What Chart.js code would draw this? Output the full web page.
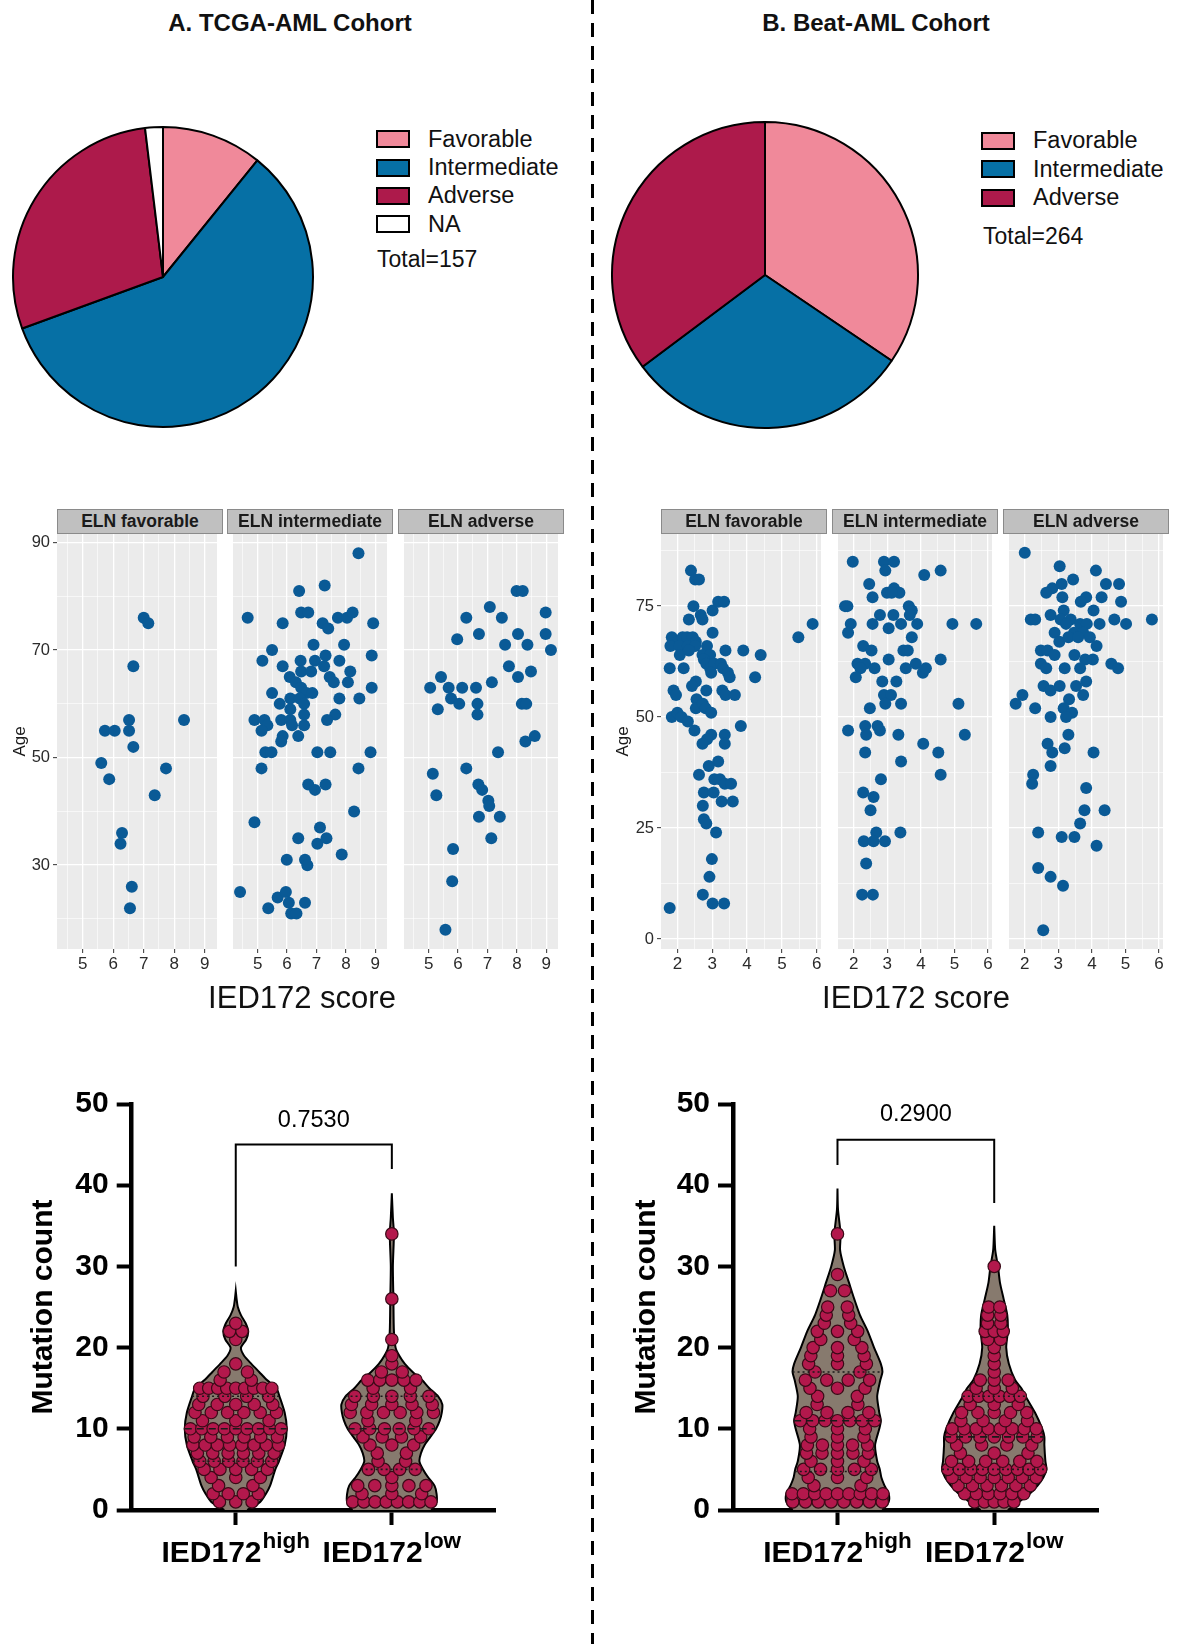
<!DOCTYPE html>
<html lang="en">
<head>
<meta charset="utf-8">
<title>IED172 score and ELN risk: TCGA-AML and Beat-AML</title>
<script src="https://cdn.jsdelivr.net/npm/chart.js@4.4.1/dist/chart.umd.min.js"></script>
<style>
  html, body { margin: 0; background: #fff; }
  body { font-family: "Liberation Sans", Arial, Helvetica, sans-serif; color: #111; }
  #page { position: relative; width: 1180px; height: 1644px; overflow: hidden; }
  .abs { position: absolute; }
  canvas { display: block; }
  .title { font-weight: bold; font-size: 24px; white-space: nowrap; transform: translate(-50%, -50%); }
  .key { display: flex; align-items: center; font-size: 23.5px; white-space: nowrap; }
  .sw { width: 30px; height: 14px; border: 2px solid #000; margin-right: 18px; flex: none; }
  .total { font-size: 23px; white-space: nowrap; transform: translateY(-50%); }
  .strip { top: 509px; height: 25px; box-sizing: border-box; background: #c0c0c0; border: 1px solid #8a8a8a;
           font-weight: bold; font-size: 17.5px; color: #1a1a1a; text-align: center; line-height: 23px; white-space: nowrap; }
  .xtitle { font-size: 31px; color: #111; white-space: nowrap; transform: translate(-50%, -50%); }
  #divider { left: 591px; top: 0; width: 3px; height: 1644px;
             background: repeating-linear-gradient(to bottom, #000 0, #000 14px, transparent 14px, transparent 23px); }
</style>
</head>
<body>
<div id="page">
  <div id="divider" class="abs"></div>
  <div class="abs title" style="left:290px; top:23px">A. TCGA-AML Cohort</div>
  <div class="abs title" style="left:876px; top:23px">B. Beat-AML Cohort</div>

  <canvas id="pieA" class="abs" width="306" height="306" style="left:10px; top:124px"></canvas>
  <canvas id="pieB" class="abs" width="312" height="312" style="left:609px; top:119px"></canvas>

  <canvas id="fA0" class="abs" width="223" height="457" style="left:0px; top:524px"></canvas>
  <canvas id="fA1" class="abs" width="166" height="457" style="left:227px; top:524px"></canvas>
  <canvas id="fA2" class="abs" width="166" height="457" style="left:398px; top:524px"></canvas>
  <canvas id="fB0" class="abs" width="227" height="457" style="left:600px; top:524px"></canvas>
  <canvas id="fB1" class="abs" width="166" height="457" style="left:832px; top:524px"></canvas>
  <canvas id="fB2" class="abs" width="166" height="457" style="left:1003px; top:524px"></canvas>
  <div class="abs xtitle" style="left:302px; top:998px">IED172 score</div>
  <div class="abs xtitle" style="left:916px; top:998px">IED172 score</div>

  <canvas id="vA" class="abs" width="520" height="520" style="left:0px; top:1080px"></canvas>
  <canvas id="vB" class="abs" width="520" height="520" style="left:600px; top:1080px"></canvas>
</div>

<script>
"use strict";

const FONT = '"Liberation Sans", Arial, Helvetica, sans-serif';
const DOT_BLUE = "#0a5a96";
const DOT_RED = "#b3184c";
const VIOLIN_FILL = "#877a6e";

// ELN risk groups
const riskLabels = ["Favorable", "Intermediate", "Adverse", "NA"];
const riskColors = ["#f0899a", "#0670a5", "#ad1a4b", "#ffffff"];
const tcgaRisk = [17, 92, 45, 3];
const beatRisk = [91, 80, 93];

// facet panels: IED172 score vs age
const facetNames = ["ELN favorable", "ELN intermediate", "ELN adverse"];
const tcgaXTicks = [5, 6, 7, 8, 9];
const tcgaYTicks = [30, 50, 70, 90];
const beatXTicks = [2, 3, 4, 5, 6];
const beatYTicks = [0, 25, 50, 75];

const tcgaFavorable = [
  [7.00, 76], [7.15, 75], [6.66, 67], [8.32, 57], [6.52, 57], [5.73, 55], [6.05, 55], [6.52, 55], [6.66, 52],
  [5.61, 49], [7.73, 48], [5.87, 46], [7.36, 43], [6.29, 36], [6.24, 34], [6.61, 26], [6.55, 22],
];
const tcgaIntermediate = [
  [8.43, 88], [6.41, 81], [7.28, 82], [6.48, 77], [6.72, 77], [4.66, 76], [5.85, 75], [7.21, 75], [7.40, 74],
  [7.73, 76], [8.04, 76], [8.23, 77], [8.93, 75], [6.90, 71], [7.94, 71], [5.49, 70], [5.16, 68], [5.85, 67],
  [6.46, 68], [6.95, 68], [7.31, 69], [7.78, 68], [8.88, 69], [6.09, 65], [6.48, 66], [6.82, 66], [7.26, 67],
  [7.45, 65], [7.59, 64], [8.15, 66], [8.07, 64], [8.88, 63], [6.30, 64], [6.48, 63], [6.66, 62], [6.86, 62],
  [5.49, 62], [6.11, 61], [6.43, 61], [6.58, 60], [7.78, 61], [8.46, 61], [5.75, 60], [6.11, 59], [6.58, 58],
  [7.64, 58], [7.36, 57], [4.89, 57], [5.23, 57], [5.80, 57], [6.11, 57], [5.33, 56], [5.13, 55], [6.17, 56],
  [6.58, 56], [5.85, 54], [5.80, 53], [6.38, 54], [5.26, 51], [5.47, 51], [7.03, 51], [7.47, 51], [8.84, 51],
  [5.13, 48], [8.43, 48], [6.72, 45], [6.95, 44], [7.31, 45], [8.28, 40], [4.89, 38], [7.12, 37], [6.38, 35],
  [7.03, 34], [7.34, 35], [7.86, 32], [5.99, 31], [6.61, 31], [6.69, 30], [4.40, 25], [5.68, 24], [5.96, 25],
  [5.36, 22], [6.06, 23], [6.14, 21], [6.32, 21], [6.61, 23],
];
const tcgaAdverse = [
  [7.99, 81], [8.20, 81], [7.08, 78], [8.98, 77], [6.28, 76], [7.49, 76], [5.97, 72], [6.71, 73], [8.04, 73],
  [8.98, 73], [7.60, 71], [8.36, 71], [9.16, 70], [7.73, 67], [8.48, 66], [8.04, 65], [5.42, 65], [5.05, 63],
  [5.68, 63], [6.14, 63], [6.61, 63], [7.15, 64], [5.76, 61], [6.04, 60], [6.66, 60], [6.66, 58], [5.31, 59],
  [8.17, 60], [8.32, 60], [8.29, 53], [8.61, 54], [7.36, 51], [6.28, 48], [5.14, 47], [5.26, 43], [6.69, 45],
  [6.82, 44], [7.03, 42], [7.06, 41], [6.71, 39], [7.42, 39], [7.13, 35], [5.83, 33], [5.80, 27], [5.57, 18],
];
const beatFavorable = [
  [2.39, 83], [2.51, 81], [2.62, 81], [2.46, 75], [2.33, 72], [2.67, 73], [2.72, 72], [3.01, 74], [3.17, 76],
  [3.34, 76], [5.88, 71], [5.47, 68], [3.01, 69], [1.84, 68], [2.00, 67], [2.15, 68], [2.28, 68], [2.44, 68],
  [2.53, 67], [1.80, 66], [2.06, 66], [2.30, 66], [2.51, 66], [2.85, 66], [2.07, 64], [2.33, 65], [2.72, 64],
  [2.94, 64], [2.76, 63], [3.38, 65], [3.89, 65], [4.39, 64], [1.78, 61], [2.18, 61], [2.83, 62], [2.94, 61],
  [3.06, 62], [3.25, 62], [2.97, 60], [3.31, 61], [3.45, 60], [3.50, 59], [4.23, 59], [1.89, 56], [1.96, 55],
  [2.53, 58], [2.42, 57], [2.83, 56], [3.29, 56], [3.38, 55], [3.65, 55], [2.55, 54], [2.53, 52], [2.73, 53],
  [2.81, 52], [2.97, 51], [1.84, 50], [2.00, 51], [2.12, 50], [2.30, 49], [2.49, 47], [3.82, 48], [2.97, 46],
  [2.85, 45], [2.72, 44], [3.36, 46], [3.36, 44], [3.17, 40], [2.90, 39], [2.62, 37], [3.06, 36], [3.22, 36],
  [3.36, 35], [3.54, 35], [2.76, 33], [3.04, 33], [3.27, 31], [3.59, 31], [2.73, 30], [2.76, 27], [2.83, 26],
  [3.11, 24], [2.99, 18], [2.92, 14], [2.73, 10], [3.01, 8], [3.34, 8], [1.78, 7],
];
const beatIntermediate = [
  [1.97, 85], [2.90, 85], [3.20, 85], [2.94, 83], [4.59, 83], [4.10, 82], [2.46, 80], [2.56, 77], [2.99, 78],
  [3.20, 79], [3.36, 78], [3.13, 78], [1.74, 75], [1.81, 75], [3.64, 75], [3.73, 74], [3.67, 73], [2.78, 73],
  [3.18, 73], [1.91, 71], [2.56, 71], [3.41, 71], [3.89, 71], [4.94, 71], [5.65, 71], [1.83, 69], [3.04, 70],
  [3.73, 68], [2.28, 66], [2.53, 65], [3.48, 65], [3.61, 65], [4.59, 63], [3.04, 63], [2.11, 62], [2.34, 62],
  [2.20, 61], [2.06, 59], [2.62, 61], [3.55, 61], [3.85, 62], [4.06, 60], [4.15, 61], [2.85, 58], [3.27, 58],
  [2.90, 55], [3.11, 55], [2.94, 53], [3.41, 53], [5.12, 53], [2.48, 52], [1.83, 47], [2.34, 48], [2.37, 46],
  [2.71, 48], [2.78, 47], [3.33, 46], [5.31, 46], [4.07, 44], [2.34, 42], [4.52, 42], [3.41, 40], [4.59, 37],
  [2.81, 36], [2.28, 33], [2.59, 32], [2.50, 29], [3.39, 24], [2.67, 24], [2.30, 22], [2.59, 22], [2.93, 22],
  [2.37, 17], [2.25, 10], [2.57, 10],
];
const beatAdverse = [
  [2.00, 87], [3.04, 84], [4.12, 83], [3.44, 81], [4.42, 80], [4.81, 80], [2.82, 79], [3.10, 80], [2.64, 78],
  [3.12, 77], [4.29, 77], [3.83, 77], [3.67, 76], [4.87, 76], [4.05, 74], [3.16, 74], [2.18, 72], [2.31, 72],
  [2.77, 73], [3.07, 72], [3.37, 72], [3.23, 71], [3.65, 71], [3.85, 71], [4.23, 71], [4.67, 72], [5.02, 71],
  [5.79, 72], [2.89, 69], [3.47, 69], [3.74, 69], [3.94, 68], [3.03, 67], [3.30, 68], [3.59, 68], [4.14, 66],
  [2.48, 65], [2.68, 65], [2.89, 64], [2.48, 62], [2.64, 61], [3.48, 64], [3.80, 63], [4.03, 63], [4.58, 62],
  [4.78, 61], [3.19, 61], [3.65, 61], [2.56, 57], [2.77, 56], [3.04, 57], [3.53, 57], [3.83, 58], [3.74, 55],
  [1.93, 55], [1.73, 53], [2.31, 52], [3.32, 54], [3.16, 52], [3.41, 51], [3.23, 50], [2.77, 50], [3.30, 46],
  [2.68, 44], [2.82, 42], [3.19, 43], [4.05, 42], [2.77, 39], [2.25, 37], [2.22, 35], [3.83, 34], [3.78, 29],
  [4.38, 29], [3.65, 26], [2.40, 24], [3.10, 23], [3.48, 23], [4.14, 21], [2.40, 16], [2.77, 14], [3.14, 12],
  [2.55, 2],
];

// mutation count violins; counts[i] = number of patients with i mutations
const groupLabels = [["IED172", "high"], ["IED172", "low"]];
const countTicks = [0, 10, 20, 30, 40, 50];
const tcgaHighCounts = [0, 3, 4, 2, 3, 5, 6, 6, 8, 6, 9, 3, 6, 5, 4, 9, 2, 2, 1, 0, 0, 1, 2, 1];
const tcgaLowCounts = [0, 8, 3, 5, 1, 4, 2, 2, 3, 4, 6, 2, 6, 5, 5, 2, 5, 2, 1, 1, 0, 1, 0, 0, 0, 0, 1,
  0, 0, 0, 0, 0, 0, 0, 1];
const beatHighCounts = [0, 8, 9, 2, 3, 5, 3, 5, 5, 3, 3, 7, 4, 2, 2, 3, 4, 2, 3, 3, 3, 2, 3, 2, 2, 2, 0, 2,
  0, 1, 0, 0, 0, 0, 1];
const beatLowCounts = [0, 5, 6, 6, 7, 9, 6, 3, 4, 7, 8, 4, 5, 3, 6, 3, 3, 1, 1, 1, 1, 2, 3, 2, 2, 2, 0, 0,
  0, 0, 1];
const tcgaHighQuart = [6, 10, 14];
const tcgaLowQuart = [5, 10, 14];
const beatHighQuart = [4.75, 11, 17];
const beatLowQuart = [5, 9, 14];
// violin outline: half width (x units) at each mutation-count level
const tcgaHighLevels = [0, 1, 2, 3, 5, 6, 8, 10, 12, 14, 15, 16, 17, 18, 19, 20, 21, 22, 23, 24, 25, 26, 27];
const tcgaHighWidth = [0.11, 0.235, 0.29, 0.33, 0.38, 0.415, 0.47, 0.49, 0.47, 0.42, 0.39, 0.30, 0.225, 0.15,
  0.08, 0.05, 0.10, 0.12, 0.095, 0.05, 0.02, 0.008, 0];
const tcgaLowLevels = [0, 1, 2, 3, 4, 5, 6, 7, 8, 9, 10, 11, 12, 13, 14, 15, 16, 17, 18, 19, 20, 22, 26, 30,
  34, 36, 39];
const tcgaLowWidth = [0.38, 0.43, 0.43, 0.41, 0.35, 0.30, 0.265, 0.28, 0.315, 0.37, 0.425, 0.46, 0.48, 0.485,
  0.445, 0.36, 0.29, 0.2, 0.125, 0.072, 0.036, 0.02, 0.015, 0.01, 0.02, 0.01, 0];
const beatHighLevels = [0, 1, 2, 3, 4, 5, 6, 8, 10, 11, 12, 14, 16, 17, 18, 20, 22, 24, 26, 28, 30, 32, 34,
  37, 39.6];
const beatHighWidth = [0.43, 0.49, 0.49, 0.45, 0.42, 0.405, 0.38, 0.36, 0.40, 0.415, 0.40, 0.38, 0.41, 0.43,
  0.415, 0.35, 0.29, 0.215, 0.16, 0.11, 0.06, 0.025, 0.03, 0.005, 0];
const beatLowLevels = [0, 1, 2, 3, 4, 5, 6, 8, 9, 10, 12, 14, 15, 16, 18, 20, 22, 24, 26, 28, 30, 32, 35];
const beatLowWidth = [0.13, 0.235, 0.34, 0.415, 0.47, 0.5, 0.49, 0.48, 0.48, 0.46, 0.39, 0.3, 0.26, 0.2,
  0.14, 0.115, 0.13, 0.125, 0.09, 0.055, 0.036, 0.01, 0];
const tcgaP = "0.7530";
const beatP = "0.2900";
const tcgaBracket = [30, 45, 42];   // left foot, bar, right foot
const beatBracket = [42.5, 45.6, 37.8];

const groupPos = [1, 2.5];

Chart.defaults.font.family = FONT;

const page = document.getElementById("page");
function addDiv(cls, style, text) {
  const d = document.createElement("div");
  d.className = "abs " + cls;
  d.setAttribute("style", style);
  if (text !== undefined) d.textContent = text;
  page.appendChild(d);
  return d;
}

// ---------- pies ----------
function pieChart(id, values) {
  return new Chart(document.getElementById(id), {
    type: "pie",
    data: {
      labels: riskLabels.slice(0, values.length),
      datasets: [{
        data: values,
        backgroundColor: riskColors.slice(0, values.length),
        borderColor: "#000",
        borderWidth: 2,
      }],
    },
    options: {
      responsive: false, animation: false, events: [],
      layout: { padding: 2 },
      plugins: { legend: { display: false }, tooltip: { enabled: false } },
    },
  });
}

function pieLegend(n, left, top, pitch, total, totalLeft, totalY) {
  for (let i = 0; i < n; i++) {
    const row = addDiv("key", `left:${left}px; top:${top + i * pitch}px; height:${pitch}px`);
    const sw = document.createElement("span");
    sw.className = "sw";
    sw.style.background = riskColors[i];
    row.appendChild(sw);
    row.appendChild(document.createTextNode(riskLabels[i]));
  }
  addDiv("total", `left:${totalLeft}px; top:${totalY}px`, "Total=" + total);
}

pieChart("pieA", tcgaRisk);
pieChart("pieB", beatRisk);
pieLegend(4, 376, 125.4, 28.2, tcgaRisk.reduce((a, b) => a + b, 0), 377, 259.3);
pieLegend(3, 981, 126.7, 28.5, beatRisk.reduce((a, b) => a + b, 0), 983, 236);

// ---------- faceted scatter ----------
const panelBg = {
  id: "panelBg",
  beforeDraw(chart, args, opts) {
    const { ctx, chartArea: a } = chart;
    ctx.save();
    ctx.fillStyle = opts.color || "#ebebeb";
    ctx.fillRect(a.left, a.top, a.right - a.left, a.bottom - a.top);
    ctx.restore();
  },
};

function withMinor(major, range) {
  const step = major[1] - major[0];
  const out = major.slice();
  for (let v = major[0] - step / 2; v <= range[1]; v += step) {
    if (v >= range[0]) out.push(v);
  }
  return out.sort((a, b) => a - b);
}
const isMajor = (list, v) => list.some((m) => Math.abs(m - v) < 1e-6);

function facetChart(id, points, cfg, first) {
  const grid = (major, ticks) => ({
    color: "#ffffff",
    lineWidth: (c) => (c.tick && isMajor(major, c.tick.value) ? 1.3 : 0.6),
    drawTicks: ticks,
    tickLength: 4,
    tickWidth: 1,
    tickColor: (c) => (c.tick && isMajor(major, c.tick.value) ? "#333" : "rgba(0,0,0,0)"),
  });
  return new Chart(document.getElementById(id), {
    type: "scatter",
    data: {
      datasets: [{
        data: points.map(([x, y]) => ({ x, y })),
        pointRadius: 6,
        pointBackgroundColor: DOT_BLUE,
        pointBorderWidth: 0,
      }],
    },
    options: {
      responsive: false, animation: false, events: [],
      layout: { padding: { top: 10, right: 0, bottom: 0, left: 0 } },
      plugins: { legend: { display: false }, tooltip: { enabled: false }, panelBg: { color: "#ebebeb" } },
      scales: {
        x: {
          type: "linear", min: cfg.xRange[0], max: cfg.xRange[1],
          afterBuildTicks: (s) => { s.ticks = withMinor(cfg.xTicks, cfg.xRange).map((value) => ({ value })); },
          afterFit: (s) => { s.height = 32; s.paddingLeft = 0; s.paddingRight = 0; },
          border: { display: false },
          grid: grid(cfg.xTicks, true),
          ticks: {
            autoSkip: false, maxRotation: 0, padding: 1, color: "#2b2b2b", font: { size: 17 },
            callback: (v) => (isMajor(cfg.xTicks, v) ? String(v) : ""),
          },
        },
        y: {
          type: "linear", min: cfg.yRange[0], max: cfg.yRange[1],
          afterBuildTicks: (s) => { s.ticks = withMinor(cfg.yTicks, cfg.yRange).map((value) => ({ value })); },
          afterFit: (s) => { s.width = first ? cfg.yAxisW : 0; s.paddingTop = 0; s.paddingBottom = 0; },
          border: { display: false },
          grid: grid(cfg.yTicks, first),
          ticks: {
            display: first, autoSkip: false, padding: 3, color: "#2b2b2b", font: { size: 16.5 },
            callback: (v) => (isMajor(cfg.yTicks, v) ? String(v) : ""),
          },
          title: {
            display: first, text: "Age", color: "#1a1a1a", font: { size: 17 },
            padding: { top: cfg.agePad, bottom: 0 },
          },
        },
      },
    },
    plugins: [panelBg],
  });
}

const tcgaCfg = { xTicks: tcgaXTicks, yTicks: tcgaYTicks, xRange: [4.16, 9.40], yRange: [14.4, 91.6], yAxisW: 57, agePad: 9.8 };
const beatCfg = { xTicks: beatXTicks, yTicks: beatYTicks, xRange: [1.53, 6.12], yRange: [-2.25, 91.25], yAxisW: 61, agePad: 13.1 };

[tcgaFavorable, tcgaIntermediate, tcgaAdverse].forEach((pts, i) => facetChart("fA" + i, pts, tcgaCfg, i === 0));
[beatFavorable, beatIntermediate, beatAdverse].forEach((pts, i) => facetChart("fB" + i, pts, beatCfg, i === 0));

[[57, 227, 398], [661, 832, 1003]].forEach((lefts) => {
  lefts.forEach((l, i) => addDiv("strip", `left:${l}px; width:166px`, facetNames[i]));
});

// ---------- violins ----------
function violinOutline(center, levels, width) {
  const right = levels.map((v, i) => ({ x: center + width[i], y: v }));
  const left = levels.map((v, i) => ({ x: center - width[i], y: v })).reverse();
  return right.concat(left);
}

function widthAt(levels, width, v) {
  for (let i = 1; i < levels.length; i++) {
    if (v <= levels[i]) {
      const t = (v - levels[i - 1]) / (levels[i] - levels[i - 1]);
      return width[i - 1] + t * (width[i] - width[i - 1]);
    }
  }
  return 0;
}

// spread each row of equal counts evenly across the violin's width at that level
function swarm(center, counts, levels, width) {
  const pts = [];
  counts.forEach((n, v) => {
    if (!n) return;
    const hw = widthAt(levels, width, v);
    const step = (2 * hw) / n;
    for (let i = 0; i < n; i++) pts.push({ x: center - hw + step * (i + 0.5), y: v });
  });
  return pts;
}

const violinText = {
  id: "violinText",
  afterDraw(chart, args, opts) {
    const { ctx, chartArea, scales: { x, y } } = chart;
    ctx.save();
    ctx.fillStyle = "#000";
    ctx.textBaseline = "alphabetic";
    ctx.textAlign = "left";
    const base = chartArea.bottom + 51.7;
    groupLabels.forEach(([main, sup], i) => {
      const cx = x.getPixelForValue(groupPos[i]);
      ctx.font = `bold 30px ${FONT}`;
      const w1 = ctx.measureText(main).width;
      ctx.font = `bold 22.5px ${FONT}`;
      const w2 = ctx.measureText(sup).width;
      const left = cx - (w1 + w2 + 1) / 2;
      ctx.font = `bold 30px ${FONT}`;
      ctx.fillText(main, left, base);
      ctx.font = `bold 22.5px ${FONT}`;
      ctx.fillText(sup, left + w1 + 1, base - 13.4);
    });
    const mid = (x.getPixelForValue(groupPos[0]) + x.getPixelForValue(groupPos[1])) / 2;
    ctx.font = `23.5px ${FONT}`;
    ctx.textAlign = "center";
    ctx.textBaseline = "middle";
    ctx.fillText(opts.p, mid, y.getPixelForValue(opts.bar) - opts.gap);
    ctx.restore();
  },
};

function violinChart(id, groups, bracket, p, cfg) {
  const datasets = [];
  groups.forEach((g, gi) => {
    const c = groupPos[gi];
    datasets.push({
      data: violinOutline(c, g.levels, g.width),
      showLine: true, fill: "shape", backgroundColor: VIOLIN_FILL,
      borderColor: "#000", borderWidth: 2, pointRadius: 0, tension: 0.25, order: 3,
    });
    datasets.push({
      data: swarm(c, g.counts, g.levels, g.width),
      pointRadius: 6.2, pointBackgroundColor: DOT_RED, pointBorderColor: "#3a0a17", pointBorderWidth: 1.2,
      order: 2,
    });
    g.quart.forEach((q, qi) => {
      const hw = widthAt(g.levels, g.width, q);
      datasets.push({
        data: [{ x: c - hw, y: q }, { x: c + hw, y: q }],
        showLine: true, borderColor: "#1a1a1a", borderWidth: 1.6,
        borderDash: qi === 1 ? [7, 5] : [2, 3], pointRadius: 0, order: 1,
      });
    });
  });
  datasets.push({
    data: [
      { x: groupPos[0], y: bracket[0] }, { x: groupPos[0], y: bracket[1] },
      { x: groupPos[1], y: bracket[1] }, { x: groupPos[1], y: bracket[2] },
    ],
    showLine: true, borderColor: "#000", borderWidth: 2, pointRadius: 0, order: 0,
  });

  const axisGrid = { drawOnChartArea: false, drawTicks: true, tickLength: 15, tickWidth: 4, tickColor: "#000", color: "#000" };
  return new Chart(document.getElementById(id), {
    type: "scatter",
    data: { datasets },
    options: {
      responsive: false, animation: false, events: [],
      layout: { padding: { top: 24, right: cfg.padRight, bottom: 0, left: 0 } },
      plugins: {
        legend: { display: false }, tooltip: { enabled: false },
        violinText: { p, bar: bracket[1], gap: cfg.pGap },
      },
      scales: {
        x: {
          type: "linear", min: 0, max: 3.5,
          afterBuildTicks: (s) => { s.ticks = groupPos.map((value) => ({ value })); },
          afterFit: (s) => { s.height = 90; s.paddingLeft = 0; s.paddingRight = 0; },
          border: { display: true, color: "#000", width: 4.5 },
          grid: axisGrid,
          ticks: { display: false },
        },
        y: {
          type: "linear", min: 0, max: 50,
          afterBuildTicks: (s) => { s.ticks = countTicks.map((value) => ({ value })); },
          afterFit: (s) => { s.width = cfg.yAxisW; s.paddingTop = 0; s.paddingBottom = 0; },
          border: { display: true, color: "#000", width: 4.5 },
          grid: axisGrid,
          ticks: { color: "#000", padding: 8, font: { size: 30, weight: "bold" } },
          title: {
            display: true, text: "Mutation count", color: "#000",
            font: { size: 30, weight: "bold" }, padding: { top: cfg.titlePad, bottom: 0 },
          },
        },
      },
    },
    plugins: [violinText],
  });
}

violinChart("vA", [
  { counts: tcgaHighCounts, levels: tcgaHighLevels, width: tcgaHighWidth, quart: tcgaHighQuart },
  { counts: tcgaLowCounts, levels: tcgaLowLevels, width: tcgaLowWidth, quart: tcgaLowQuart },
], tcgaBracket, tcgaP, { yAxisW: 131.7, padRight: 24.1, titlePad: 25.3, pGap: 24.2 });

violinChart("vB", [
  { counts: beatHighCounts, levels: beatHighLevels, width: beatHighWidth, quart: beatHighQuart },
  { counts: beatLowCounts, levels: beatLowLevels, width: beatLowWidth, quart: beatLowQuart },
], beatBracket, beatP, { yAxisW: 133, padRight: 21.3, titlePad: 28.4, pGap: 25.3 });
</script>
</body>
</html>
